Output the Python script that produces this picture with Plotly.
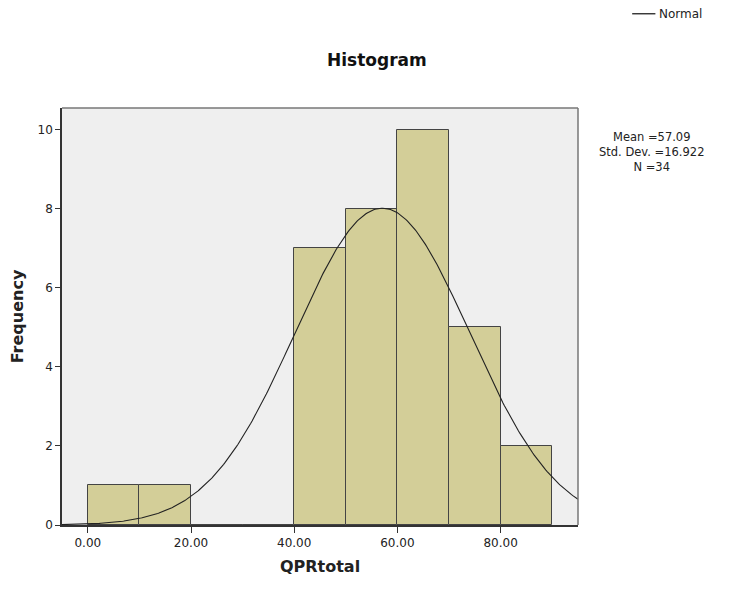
import numpy as np
import plotly.graph_objects as go

bin_starts = [0, 10, 20, 30, 40, 50, 60, 70, 80]
counts = [1, 1, 0, 0, 7, 8, 10, 5, 2]
bin_width = 10
mean_val = 57.09
sd_val = 16.922
n_val = 34
x_ticks = [0, 20, 40, 60, 80]
x_tick_text = ["0.00", "20.00", "40.00", "60.00", "80.00"]
y_ticks = [0, 2, 4, 6, 8, 10]

FONT = "DejaVu Sans"

fig = go.Figure()
fig.add_trace(go.Bar(
    x=[s + bin_width / 2 for s in bin_starts], y=counts, width=bin_width,
    marker=dict(color="#D3CE98", line=dict(color="#444444", width=1)),
    showlegend=False, hoverinfo="skip"))

xc = np.linspace(-5, 95, 400)
yc = n_val * bin_width / (sd_val * np.sqrt(2 * np.pi)) * np.exp(-0.5 * ((xc - mean_val) / sd_val) ** 2)
fig.add_trace(go.Scatter(x=xc, y=yc, mode="lines", line=dict(color="#222222", width=1.1),
                         name="Normal", showlegend=False, hoverinfo="skip"))

fig.update_layout(
    width=731, height=591,
    margin=dict(l=62, r=153, t=108, b=66, autoexpand=False),
    paper_bgcolor="white", plot_bgcolor="#EFEFEF",
    bargap=0,
    font=dict(family=FONT, color="#222222", size=11),
    xaxis=dict(range=[-5, 95], tickvals=x_ticks, ticktext=x_tick_text, automargin=False,
               ticks="outside", ticklen=6, tickcolor="#333333", showgrid=False, zeroline=False,
               showline=True, linecolor="#333333", linewidth=1.5,
               tickfont=dict(size=12, family=FONT),
               title=dict(text="<b>QPRtotal</b>", font=dict(size=16, family=FONT), standoff=12)),
    yaxis=dict(range=[0, 10.55], tickvals=y_ticks, ticks="outside", ticklen=5, automargin=False,
               tickcolor="#333333", showgrid=False, zeroline=False,
               showline=True, linecolor="#333333", linewidth=1.5,
               tickfont=dict(size=12, family=FONT),
               title=dict(text="<b>Frequency</b>", font=dict(size=16, family=FONT), standoff=10)),
    shapes=[
        dict(type="line", xref="paper", yref="paper", x0=0, x1=1, y0=1, y1=1,
             line=dict(color="#777777", width=1.5)),
        dict(type="line", xref="paper", yref="paper", x0=1, x1=1, y0=0, y1=1,
             line=dict(color="#777777", width=1.5)),
        dict(type="line", xref="paper", yref="paper", x0=1.105, x1=1.150, y0=1.226, y1=1.226,
             line=dict(color="#222222", width=1.3)),
    ],
    annotations=[
        dict(text="<b>Histogram</b>", xref="paper", yref="paper", x=0.61, y=1.115,
             xanchor="center", yanchor="middle", showarrow=False,
             font=dict(size=17, family=FONT, color="#111111")),
        dict(text="Normal", xref="paper", yref="paper", x=1.153, y=1.226,
             xanchor="left", yanchor="middle", showarrow=False,
             font=dict(size=12, family=FONT, color="#222222")),
        dict(text=f"Mean ={mean_val:.2f}<br>Std. Dev. ={sd_val:.3f}<br>N ={n_val}",
             xref="paper", yref="paper", x=1.143, y=0.951,
             xanchor="center", yanchor="top", align="center", showarrow=False,
             font=dict(size=11.5, family=FONT, color="#222222")),
    ],
)

fig.write_html("out.html")
